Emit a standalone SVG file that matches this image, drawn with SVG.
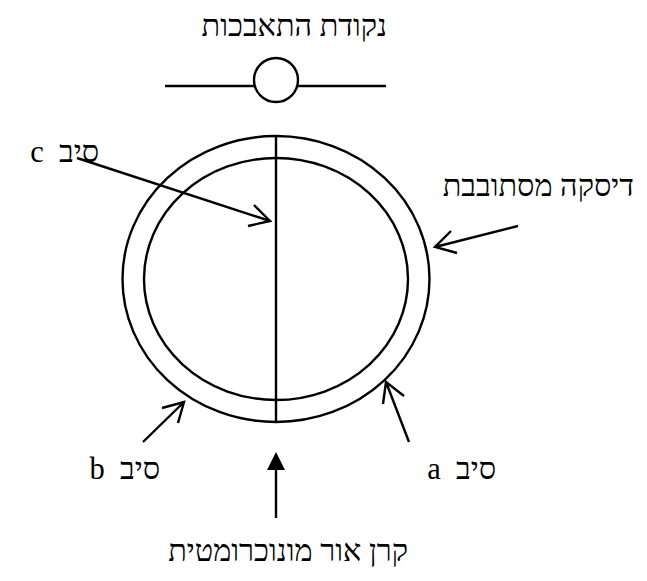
<svg xmlns="http://www.w3.org/2000/svg" width="647" height="581" viewBox="0 0 647 581">
<style>
.s{fill:none;stroke:#000;stroke-width:2.4;stroke-linecap:butt}
.t{font-family:"Liberation Serif","Noto Sans",serif;font-size:30.5px;fill:#000;direction:rtl;text-anchor:start;white-space:pre}
</style>
<rect width="647" height="581" fill="#fff"/>
<g id="junction-point">
<line class="s" x1="165" y1="86" x2="254" y2="86"/>
<line class="s" x1="298" y1="86" x2="386" y2="86"/>
<circle class="s" cx="276" cy="80" r="22"/>
<text class="t" x="387" y="36">נקודת התאבכות</text>
</g>
<g id="rotating-disk">
<ellipse class="s" cx="276" cy="279" rx="153.5" ry="143"/>
<ellipse class="s" cx="276" cy="279" rx="132" ry="121"/>
<line class="s" x1="276" y1="136" x2="276" y2="422"/>
</g>
<g id="connectors">
<path class="s" d="M77 158L270 221M254 205L270 221L248 226"/>
<path class="s" d="M518 226L435 247M451 231L435 247L457 253"/>
<path class="s" d="M409 442L386 382M383 404L386 382L404 396"/>
<path class="s" d="M143 442L184 402M162 408L184 402L178 423"/>
<line class="s" x1="276" y1="518" x2="276" y2="468"/>
<path d="M276 452L285 470H267Z" fill="#000"/>
</g>
<g id="label-c"><text class="t" x="99" y="162">סיב  c</text></g>
<g id="label-disk"><text class="t" x="634" y="196">דיסקה מסתובבת</text></g>
<g id="label-b"><text class="t" x="160" y="479">סיב  b</text></g>
<g id="label-a"><text class="t" x="496" y="479">סיב  a</text></g>
<g id="label-beam"><text class="t" x="408" y="561">קרן אור מונוכרומטית</text></g>
</svg>
